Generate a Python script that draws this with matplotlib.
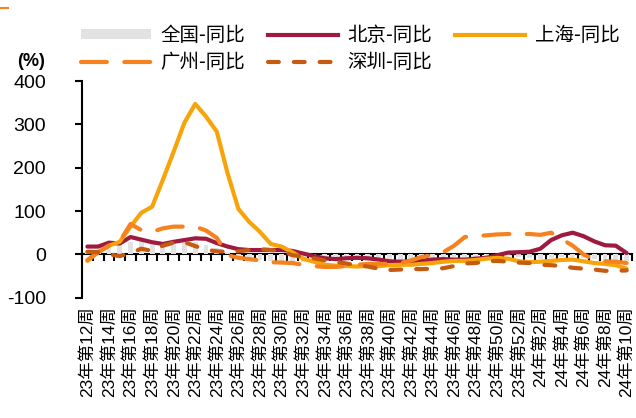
import matplotlib
matplotlib.use("Agg")
import matplotlib.pyplot as plt
from matplotlib.lines import Line2D
from matplotlib.patches import Patch
import numpy as np

# Week labels: 2023 week 12 .. 2023 week 52, then 2024 week 1 .. 2024 week 10
weeks = [f"23年第{w}周" for w in range(12, 53)] + [f"24年第{w}周" for w in range(1, 11)]

national = [5, 12, 18, 22, 28, 30, 28, 25, 25, 30, 28, 22, 15, 5, -3, -8, -12, -15, -16, -18,
            -18, -15, -15, -14, -13, -13, -15, -16, -17, -17, -16, -14, -12, -10, -6, -5, -5,
            -4, -3, -2, -5, -8, -10, -8, -6, -6, -8, -10, -12, -12, -15]

beijing = [18, 18, 27, 25, 40, 34, 28, 24, 29, 33, 37, 36, 26, 18, 12, 10, 10, 10, 10, 8,
           2, -4, -9, -11, -9, -8, -9, -12, -16, -17, -16, -15, -12, -11, -12, -12, -10, -8,
           -2, 4, 5, 6, 13, 33, 44, 50, 42, 30, 21, 20, 3]

shanghai = [-15, 5, 20, 29, 64, 96, 110, 172, 237, 304, 347, 318, 283, 187, 105, 75, 52, 24,
            18, 5, -10, -17, -24, -26, -27, -28, -27, -27, -25, -24, -24, -22, -20, -17, -15,
            -15, -13, -10, -8, -10, -16, -18, -17, -15, -13, -12, -16, -20, -22, -25, -33]

guangzhou = [-13, 5, 20, 30, 70, 56, 52, 60, 64, 64, 64, 55, 38, -2, -8, -11, -14, -18, -19,
             -20, -24, -27, -29, -29, -27, -24, -22, -22, -22, -20, -14, -6, -2, 5, 20, 40, 42,
             44, 46, 47, 47, 47, 45, 50, 35, 20, 0, -12, -16, -17, -20]

shenzhen = [6, 5, 0, -4, 3, 13, 8, 20, 27, 28, 19, 11, 7, 6, 7, 10, 12, 10, 8, -2, -5, -9,
            -14, -17, -21, -25, -28, -33, -36, -35, -34, -34, -33, -32, -27, -21, -20, -16,
            -15, -17, -19, -20, -24, -25, -27, -31, -33, -35, -38, -38, -37]

series_names = ["全国-同比", "北京-同比", "上海-同比", "广州-同比", "深圳-同比"]
yticks = [-100, 0, 100, 200, 300, 400]

c_nat = "#E2E2E2"
c_bj = "#9E1B3F"
c_sh = "#F7A30A"
c_gz = "#F5821F"
c_sz = "#C55A11"

W, H = 636, 418
fig = plt.figure(figsize=(W / 100, H / 100), dpi=100)
ax = fig.add_axes([82 / W, 1 - 297.7 / H, 550 / W, (297.7 - 81) / H])

x = np.arange(len(weeks))
ax.bar(x, national, width=0.45, color=c_nat, zorder=1)
lw = 3.0
ax.plot(x, beijing, color=c_bj, lw=lw, solid_joinstyle="round", solid_capstyle="round", zorder=3)
ax.plot(x, shanghai, color=c_sh, lw=lw, solid_joinstyle="round", solid_capstyle="round", zorder=3)
ax.plot(x, guangzhou, color=c_gz, lw=lw, dashes=(6.2, 4.2), dash_capstyle="round", zorder=3)
ax.plot(x, shenzhen, color=c_sz, lw=lw, dashes=(2.6, 3.6), dash_capstyle="round", zorder=3)

ax.set_xlim(-0.5, len(weeks) - 0.5)
ax.set_ylim(-100, 400)

for s in ["top", "right", "bottom"]:
    ax.spines[s].set_visible(False)
ax.spines["left"].set_linewidth(1.5)

ax.set_yticks(yticks)
ax.set_yticklabels([str(v) for v in yticks], fontsize=14, family="Liberation Sans")
ax.tick_params(axis="y", direction="out", length=5, width=1.5, pad=21)

ax.set_xticks(x[::2])
ax.set_xticklabels(weeks[::2], rotation=90, fontsize=12.5,
                   family=["Liberation Sans", "Noto Sans CJK SC"])
ax.tick_params(axis="x", length=0, pad=6)
for t in ax.get_xticklabels():
    t.set_va("top")

# category axis drawn along the zero line, with ticks between categories
zero_axis = ax.secondary_xaxis(0.2)
zero_axis.set_xticks(np.arange(-0.5, len(weeks), 1.0))
zero_axis.set_xticklabels([])
zero_axis.tick_params(direction="out", length=5, width=1.5)
zero_axis.spines["bottom"].set_linewidth(1.5)

fig.text(17 / W, 1 - 61 / H, "(%)", fontsize=13, fontweight="bold",
         family=["Liberation Sans"], va="center", ha="left")

# thin orange accent in the top-left corner
fig.add_artist(Line2D([0, 8 / W], [1 - 8 / H, 1 - 8 / H], color=c_gz, lw=1.5,
                      transform=fig.transFigure))

handles = [
    Patch(facecolor=c_nat, edgecolor="none"),
    Line2D([], [], color=c_gz, lw=lw, dashes=(6.2, 4.2), dash_capstyle="round"),
    Line2D([], [], color=c_bj, lw=lw),
    Line2D([], [], color=c_sz, lw=lw, dashes=(2.6, 3.6), dash_capstyle="round"),
    Line2D([], [], color=c_sh, lw=lw),
]
labels = [series_names[0], series_names[3], series_names[1], series_names[4], series_names[2]]
leg = fig.legend(handles, labels, ncol=3, loc="upper left",
                 bbox_to_anchor=(81 / W, 1 - 25 / H), frameon=False,
                 prop={"family": ["Noto Sans CJK SC"], "size": 14},
                 handlelength=3.6, handleheight=0.45, handletextpad=0.5,
                 columnspacing=1.16, labelspacing=0.33, borderpad=0, borderaxespad=0)

fig.savefig("out.png", dpi=100)
